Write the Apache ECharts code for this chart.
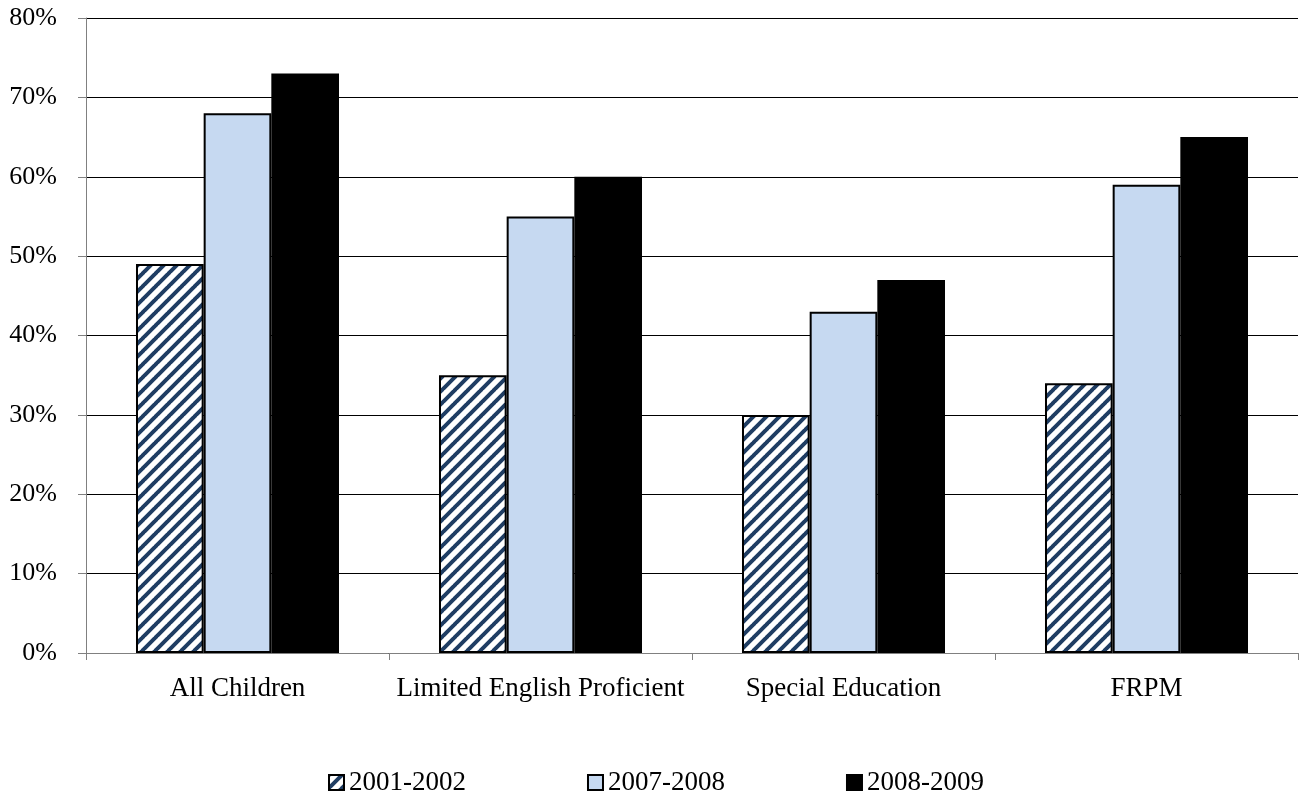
<!DOCTYPE html>
<html><head><meta charset="utf-8">
<script src="https://cdn.jsdelivr.net/npm/echarts@6/dist/echarts.min.js"></script>
<style>html,body{margin:0;padding:0;background:#fff}#c{width:1302px;height:792px}</style>
</head><body><div id="c"></div>
<script>
const categories = ['All Children', 'Limited English Proficient', 'Special Education', 'FRPM'];
const seriesNames = ['2001-2002', '2007-2008', '2008-2009'];
const s2001 = [49, 35, 30, 34];
const s2007 = [68, 55, 43, 59];
const s2008 = [73, 60, 47, 65];
const yTicks = [0, 10, 20, 30, 40, 50, 60, 70, 80];

function hatch() {
  const c = document.createElement('canvas');
  const n = 13;
  c.width = n; c.height = n;
  const g = c.getContext('2d');
  g.fillStyle = '#ffffff'; g.fillRect(0, 0, n, n);
  g.strokeStyle = '#1f3d63'; g.lineWidth = 4;
  g.beginPath();
  for (let k = -1; k <= 1; k++) {
    g.moveTo(k * n - 1, n + 1); g.lineTo(k * n + n + 1, -1);
  }
  g.stroke();
  return c;
}
const pattern = { image: hatch(), repeat: 'repeat' };
const font = '"Liberation Serif", "Times New Roman", serif';

const chart = echarts.init(document.getElementById('c'));
chart.setOption({
  animation: false,
  textStyle: { fontFamily: font },
  grid: { left: 86, right: 4, top: 18, bottom: 139 },
  legend: {
    top: 764, left: 323, itemWidth: 15, itemHeight: 15, itemGap: 121,
    icon: 'rect',
    textStyle: { fontFamily: font, fontSize: 27, color: '#000' },
    data: seriesNames
  },
  xAxis: {
    type: 'category', data: categories,
    axisLine: { lineStyle: { color: '#808080', width: 1 } },
    axisTick: { show: true, interval: 0, length: 7, lineStyle: { color: '#808080' } },
    axisLabel: { interval: 0, hideOverlap: false, fontFamily: font, fontSize: 27, color: '#000', margin: 22 }
  },
  yAxis: {
    type: 'value', min: 0, max: 80, interval: 10,
    axisLine: { show: true, lineStyle: { color: '#808080', width: 1 } },
    axisTick: { show: true, length: 8, lineStyle: { color: '#808080' } },
    splitLine: { lineStyle: { color: '#000', width: 1 } },
    axisLabel: { fontFamily: font, fontSize: 26, color: '#000', margin: 29,
      formatter: v => yTicks.includes(v) ? v + '%' : '' }
  },
  series: [
    { name: seriesNames[0], type: 'bar', data: s2001, barCategoryGap: '33%', barGap: '0%',
      itemStyle: { color: pattern, borderColor: '#000', borderWidth: 2 } },
    { name: seriesNames[1], type: 'bar', data: s2007, barGap: '0%',
      itemStyle: { color: '#c6d9f1', borderColor: '#000', borderWidth: 2 } },
    { name: seriesNames[2], type: 'bar', data: s2008, barGap: '0%',
      itemStyle: { color: '#000', borderColor: '#000', borderWidth: 2 } }
  ]
});
</script></body></html>
